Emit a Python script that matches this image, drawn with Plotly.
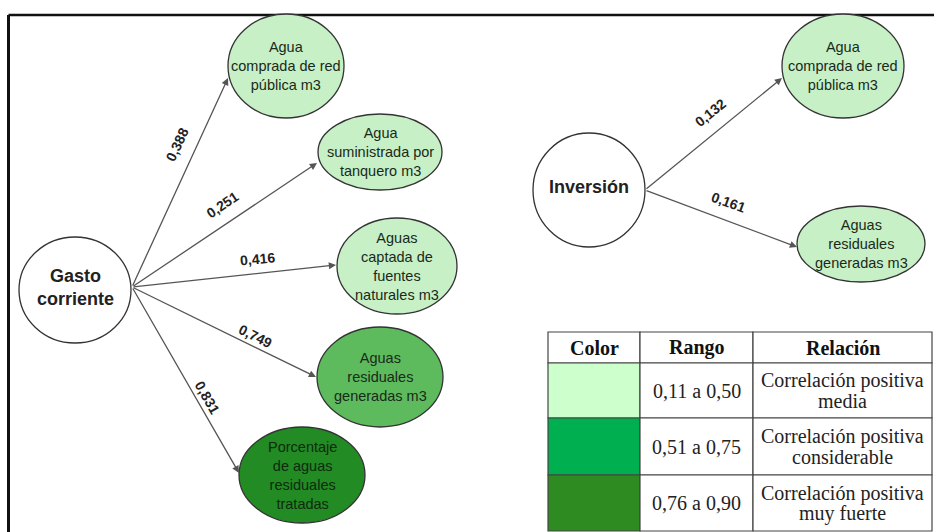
import plotly.graph_objects as go

# Data
sources = ['Gasto<br>corriente', 'Inversión']
targets = ['Agua<br>comprada de red<br>pública m3',
           'Agua<br>suministrada por<br>tanquero m3',
           'Aguas<br>captada de<br>fuentes<br>naturales m3',
           'Aguas<br>residuales<br>generadas m3',
           'Porcentaje<br>de aguas<br>residuales<br>tratadas',
           'Agua<br>comprada de red<br>pública m3',
           'Aguas<br>residuales<br>generadas m3']
edge_source = [0, 0, 0, 0, 0, 1, 1]
edge_target = [0, 1, 2, 3, 4, 5, 6]
coefficients = [0.388, 0.251, 0.416, 0.749, 0.831, 0.132, 0.161]

table_header = ['Color', 'Rango', 'Relación']
range_labels = ['0,11 a 0,50', '0,51 a 0,75', '0,76 a 0,90']
range_upper = [0.50, 0.75, 0.90]
relation_line1 = ['Correlación positiva', 'Correlación positiva', 'Correlación positiva']
relation_line2 = ['media', 'considerable', 'muy fuerte']

# Layout (pixel space of the reference, y grows downward)
W, H = 934, 532
source_pos = [(75, 290, 56, 53), (589, 190, 56, 57)]   # cx, cy, rx, ry
target_pos = [(286, 66, 58, 52), (380, 152, 62, 38), (397, 266, 60, 48),
              (380, 377, 63, 50), (302, 475, 63, 48),
              (843, 66, 61, 52), (861, 244, 64, 38)]   # cx, cy, rx, ry
edge_origin = [(132, 287), (645, 190)]
edge_tip = [(228, 78), (317, 163), (336, 265), (316, 377), (239, 473),
            (782, 78), (797, 247)]
label_pos = [(177, 145, -65), (222, 205, -34), (257, 259, -5),
             (255, 336, 27), (207, 397, 60), (710, 113, -39), (728, 202, 20)]
col_x = [548, 640, 753, 932]
row_y = [332, 363, 418, 475, 531]

node_colors = ['#c7f0c7', '#5dbb5d', '#238b23']
table_colors = ['#ccffcc', '#00b050', '#2e8b22']

SANS = 'Liberation Sans, Arial'
SERIF = 'Liberation Serif, Times New Roman'


def color_index(v):
    for i, up in enumerate(range_upper):
        if v <= up:
            return i
    return len(range_upper) - 1


shapes = []
annotations = []

# outer frame
shapes.append(dict(type='line', x0=8.5, y0=15, x1=W, y1=15,
                   line=dict(color='#111', width=2.5)))
shapes.append(dict(type='line', x0=8.5, y0=15, x1=8.5, y1=H,
                   line=dict(color='#111', width=3)))

# edges
for i, (s, t) in enumerate(zip(edge_source, edge_target)):
    ox, oy = edge_origin[s]
    tx, ty = edge_tip[i]
    annotations.append(dict(x=tx, y=ty, ax=ox, ay=oy, xref='x', yref='y',
                            axref='x', ayref='y', text='', showarrow=True,
                            arrowhead=2, arrowsize=1.1, arrowwidth=1.3,
                            arrowcolor='#555555', standoff=0))
    lx, ly, ang = label_pos[i]
    annotations.append(dict(x=lx, y=ly, xref='x', yref='y', showarrow=False,
                            text='<b>' + f'{coefficients[i]:.3f}'.replace('.', ',') + '</b>',
                            textangle=ang,
                            font=dict(family=SANS, size=14, color='#222')))

# source nodes
for name, (cx, cy, rx, ry) in zip(sources, source_pos):
    shapes.append(dict(type='circle', x0=cx - rx, x1=cx + rx, y0=cy - ry, y1=cy + ry,
                       fillcolor='white', line=dict(color='#333', width=1.3)))
    annotations.append(dict(x=cx, y=cy - 3, xref='x', yref='y', showarrow=False,
                            text='<b>' + name + '</b>',
                            font=dict(family=SANS, size=18, color='#222')))

# target nodes, coloured by the coefficient of the incoming edge
for i, t in enumerate(edge_target):
    cx, cy, rx, ry = target_pos[t]
    ci = color_index(coefficients[i])
    shapes.append(dict(type='circle', x0=cx - rx, x1=cx + rx, y0=cy - ry, y1=cy + ry,
                       fillcolor=node_colors[ci], line=dict(color='#333', width=1.3)))
    annotations.append(dict(x=cx, y=cy, xref='x', yref='y', showarrow=False,
                            text=targets[t],
                            font=dict(family=SANS, size=14.5,
                                      color='#1a2a1a' if ci < 2 else '#0f2a0f')))

# legend table
for r in range(len(row_y) - 1):
    for c in range(len(col_x) - 1):
        fill = table_colors[r - 1] if (c == 0 and r > 0) else 'white'
        shapes.append(dict(type='rect', x0=col_x[c], x1=col_x[c + 1],
                           y0=row_y[r], y1=row_y[r + 1], fillcolor=fill,
                           line=dict(color='#444', width=1.2)))
for c, h in enumerate(table_header):
    annotations.append(dict(x=(col_x[c] + col_x[c + 1]) / 2,
                            y=(row_y[0] + row_y[1]) / 2, xref='x', yref='y',
                            showarrow=False, text='<b>' + h + '</b>',
                            font=dict(family=SERIF, size=20, color='#111')))
for r in range(len(range_labels)):
    yc = (row_y[r + 1] + row_y[r + 2]) / 2
    xc = (col_x[2] + col_x[3]) / 2
    annotations.append(dict(x=(col_x[1] + col_x[2]) / 2, y=yc, xref='x', yref='y',
                            showarrow=False, text=range_labels[r],
                            font=dict(family=SERIF, size=20, color='#222')))
    annotations.append(dict(x=xc, y=yc - 10, xref='x', yref='y',
                            showarrow=False, text=relation_line1[r],
                            font=dict(family=SERIF, size=20, color='#222')))
    annotations.append(dict(x=xc, y=yc + 10, xref='x', yref='y',
                            showarrow=False, text=relation_line2[r],
                            font=dict(family=SERIF, size=20, color='#222')))

fig = go.Figure()
fig.update_layout(
    width=W, height=H,
    margin=dict(l=0, r=0, t=0, b=0),
    paper_bgcolor='white', plot_bgcolor='white',
    xaxis=dict(range=[0, W], visible=False, fixedrange=True),
    yaxis=dict(range=[H, 0], visible=False, fixedrange=True),
    shapes=shapes, annotations=annotations,
    showlegend=False,
)

# drop the default page margin so the figure fills the window exactly
fig.write_html("out.html", config={'displayModeBar': False},
               post_script="document.body.style.margin='0';document.body.style.overflow='hidden';")
